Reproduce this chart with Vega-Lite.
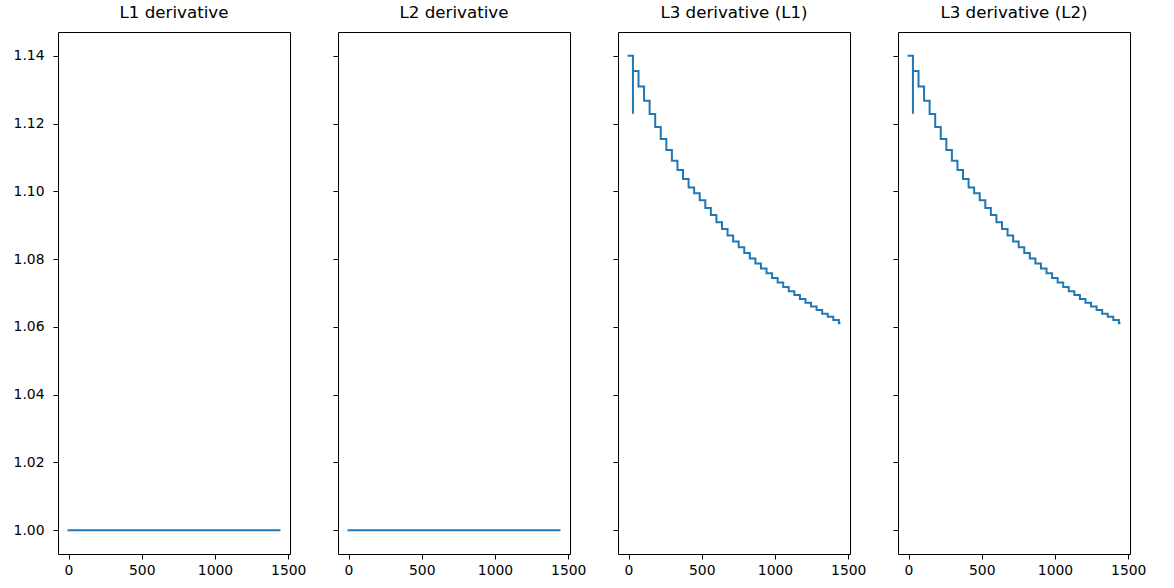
{
  "$schema": "https://vega.github.io/schema/vega-lite/v6.json",
  "padding": {"left": 12, "top": 4, "right": 5, "bottom": 5},
  "background": "white",
  "spacing": 48,
  "bounds": "flush",
  "config": {
    "view": {"stroke": "black", "strokeWidth": 1},
    "font": "DejaVu Sans",
    "title": {"font": "DejaVu Sans", "fontSize": 16.7, "fontWeight": "normal", "color": "black", "baseline": "alphabetic", "offset": 10, "anchor": "middle"},
    "axis": {"labelFont": "DejaVu Sans", "labelFontSize": 13.9, "labelColor": "black", "tickColor": "black", "tickSize": 5, "tickWidth": 1, "grid": false, "domain": false, "title": null},
    "axisX": {"labelPadding": 4},
    "axisY": {"labelPadding": 9}
  },
  "datasets": {
    "flat": [
      {"i": 0, "x": 0, "y": 1.0},
      {"i": 1, "x": 1440, "y": 1.0}
    ],
    "curve": [
      {"i": 0, "x": 0, "y": 1.14},
      {"i": 1, "x": 30, "y": 1.1229},
      {"i": 2, "x": 30, "y": 1.1355},
      {"i": 3, "x": 68, "y": 1.1309},
      {"i": 4, "x": 106, "y": 1.1267},
      {"i": 5, "x": 144, "y": 1.1228},
      {"i": 6, "x": 182, "y": 1.119},
      {"i": 7, "x": 220, "y": 1.1154},
      {"i": 8, "x": 258, "y": 1.1122},
      {"i": 9, "x": 296, "y": 1.109},
      {"i": 10, "x": 334, "y": 1.1063},
      {"i": 11, "x": 372, "y": 1.1036},
      {"i": 12, "x": 410, "y": 1.1011},
      {"i": 13, "x": 448, "y": 1.0994},
      {"i": 14, "x": 486, "y": 1.0974},
      {"i": 15, "x": 524, "y": 1.0951},
      {"i": 16, "x": 562, "y": 1.093},
      {"i": 17, "x": 600, "y": 1.0909},
      {"i": 18, "x": 638, "y": 1.0889},
      {"i": 19, "x": 676, "y": 1.087},
      {"i": 20, "x": 714, "y": 1.0852},
      {"i": 21, "x": 752, "y": 1.0835},
      {"i": 22, "x": 790, "y": 1.0818},
      {"i": 23, "x": 828, "y": 1.0802},
      {"i": 24, "x": 866, "y": 1.0787},
      {"i": 25, "x": 904, "y": 1.0772},
      {"i": 26, "x": 942, "y": 1.0758},
      {"i": 27, "x": 980, "y": 1.0744},
      {"i": 28, "x": 1018, "y": 1.0731},
      {"i": 29, "x": 1056, "y": 1.0718},
      {"i": 30, "x": 1094, "y": 1.0705},
      {"i": 31, "x": 1132, "y": 1.0694},
      {"i": 32, "x": 1170, "y": 1.0682},
      {"i": 33, "x": 1208, "y": 1.0671},
      {"i": 34, "x": 1246, "y": 1.066},
      {"i": 35, "x": 1284, "y": 1.065},
      {"i": 36, "x": 1322, "y": 1.0639},
      {"i": 37, "x": 1360, "y": 1.063},
      {"i": 38, "x": 1398, "y": 1.062},
      {"i": 39, "x": 1436, "y": 1.0611},
      {"i": 40, "x": 1440, "y": 1.0611}
    ]
  },
  "hconcat": [
    {
      "width": 232, "height": 522,
      "title": "L1 derivative",
      "data": {"name": "flat"},
      "mark": {"type": "line", "color": "#1f77b4", "strokeWidth": 2, "interpolate": "step-after", "strokeCap": "square"},
      "encoding": {
        "x": {"field": "x", "type": "quantitative", "scale": {"domain": [-72, 1512], "nice": false, "zero": false}, "axis": {"values": [0, 500, 1000, 1500], "format": "d"}},
        "y": {"field": "y", "type": "quantitative", "scale": {"domain": [0.993, 1.147], "nice": false, "zero": false}, "axis": {"values": [1.0, 1.02, 1.04, 1.06, 1.08, 1.1, 1.12, 1.14], "format": ".2f"}},
        "order": {"field": "i", "type": "quantitative"}
      }
    },
    {
      "width": 232, "height": 522,
      "title": "L2 derivative",
      "data": {"name": "flat"},
      "mark": {"type": "line", "color": "#1f77b4", "strokeWidth": 2, "interpolate": "step-after", "strokeCap": "square"},
      "encoding": {
        "x": {"field": "x", "type": "quantitative", "scale": {"domain": [-72, 1512], "nice": false, "zero": false}, "axis": {"values": [0, 500, 1000, 1500], "format": "d"}},
        "y": {"field": "y", "type": "quantitative", "scale": {"domain": [0.993, 1.147], "nice": false, "zero": false}, "axis": {"values": [1.0, 1.02, 1.04, 1.06, 1.08, 1.1, 1.12, 1.14], "labels": false}},
        "order": {"field": "i", "type": "quantitative"}
      }
    },
    {
      "width": 232, "height": 522,
      "title": "L3 derivative (L1)",
      "data": {"name": "curve"},
      "mark": {"type": "line", "color": "#1f77b4", "strokeWidth": 2, "interpolate": "step-after", "strokeCap": "square"},
      "encoding": {
        "x": {"field": "x", "type": "quantitative", "scale": {"domain": [-72, 1512], "nice": false, "zero": false}, "axis": {"values": [0, 500, 1000, 1500], "format": "d"}},
        "y": {"field": "y", "type": "quantitative", "scale": {"domain": [0.993, 1.147], "nice": false, "zero": false}, "axis": {"values": [1.0, 1.02, 1.04, 1.06, 1.08, 1.1, 1.12, 1.14], "labels": false}},
        "order": {"field": "i", "type": "quantitative"}
      }
    },
    {
      "width": 232, "height": 522,
      "title": "L3 derivative (L2)",
      "data": {"name": "curve"},
      "mark": {"type": "line", "color": "#1f77b4", "strokeWidth": 2, "interpolate": "step-after", "strokeCap": "square"},
      "encoding": {
        "x": {"field": "x", "type": "quantitative", "scale": {"domain": [-72, 1512], "nice": false, "zero": false}, "axis": {"values": [0, 500, 1000, 1500], "format": "d"}},
        "y": {"field": "y", "type": "quantitative", "scale": {"domain": [0.993, 1.147], "nice": false, "zero": false}, "axis": {"values": [1.0, 1.02, 1.04, 1.06, 1.08, 1.1, 1.12, 1.14], "labels": false}},
        "order": {"field": "i", "type": "quantitative"}
      }
    }
  ]
}
